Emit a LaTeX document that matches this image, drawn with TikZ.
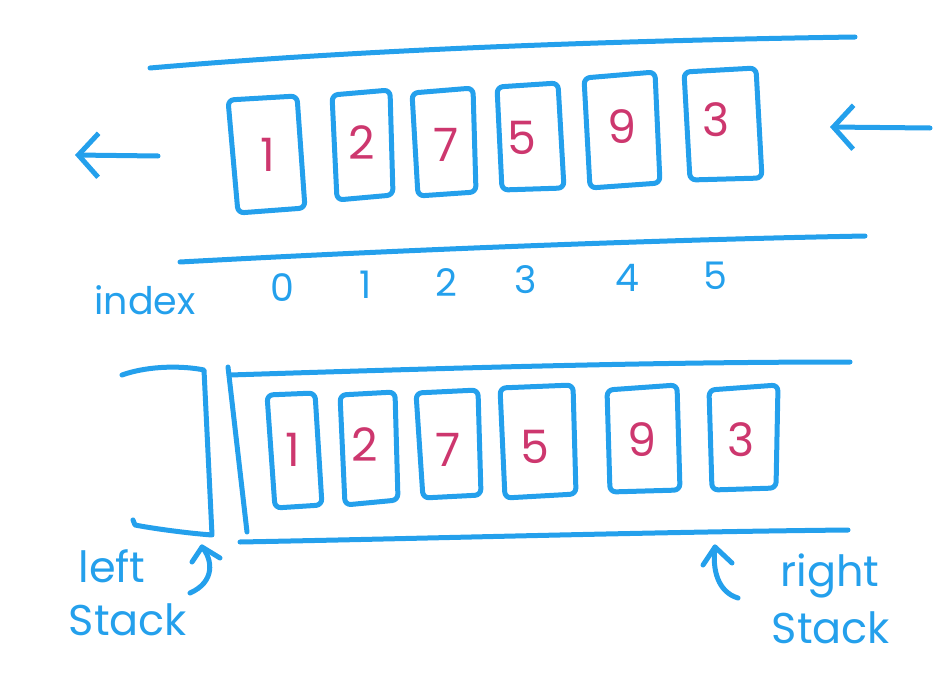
\documentclass[tikz,border=0pt]{standalone}
\usepackage{fontspec}
\setmainfont{Poppins}
\usetikzlibrary{arrows.meta}
\definecolor{pen}{RGB}{36,160,236}
\definecolor{ink}{RGB}{205,55,110}
\begin{document}
\begin{tikzpicture}[x=1pt,y=-1pt,
  pen/.style={draw=pen,line width=5pt,line cap=round,line join=round},
  cellbox/.style={pen,rounded corners=6pt},
  digit/.style={text=ink,font=\fontsize{46}{46}\selectfont,inner sep=0pt},
  idx/.style={text=pen,font=\fontsize{38}{38}\selectfont,inner sep=0pt},
  lbl/.style={text=pen,font=\fontsize{43}{43}\selectfont,inner sep=0pt},
  barb/.style={-{Straight Barb[length=20pt,width=44pt]}}]
\useasboundingbox (0,0) rectangle (940,693);

% ---------- top queue ----------
\draw[pen] (150,68) .. controls (380,48) and (650,40) .. (855,37);
\draw[pen] (180,262) .. controls (400,250) and (650,240) .. (865,236);

\coordinate (la1) at (158,156); \coordinate (la2) at (75,155);
\coordinate (ra1) at (930,128); \coordinate (ra2) at (830,127);
\draw[pen,barb] (la1) -- (la2);
\draw[pen,barb] (ra1) -- (ra2);

\draw[cellbox] (228,100) -- (297,96) -- (305,208) -- (238,213) -- cycle;
\draw[cellbox] (332,95) -- (390,90) -- (393,195) -- (337,200) -- cycle;
\draw[cellbox] (412,93) -- (473,88) -- (476,192) -- (418,196) -- cycle;
\draw[cellbox] (497,87) -- (558,83) -- (564,188) -- (502,190) -- cycle;
\draw[cellbox] (584,78) -- (655,72) -- (660,183) -- (590,188) -- cycle;
\draw[cellbox] (684,72) -- (756,68) -- (762,178) -- (690,180) -- cycle;

\node[digit] (t1) at (268,155) {1};
\node[digit] (t2) at (362,143) {2};
\node[digit] (t3) at (446,145) {7};
\node[digit] (t4) at (522,138) {5};
\node[digit] (t5) at (622,127) {9};
\node[digit] (t6) at (716,120) {3};

% ---------- index row ----------
\node[lbl,font=\fontsize{38}{38}\selectfont] (ix) at (145,300) {index};
\node[idx] (i0) at (282,288) {0};
\node[idx] (i1) at (366,285) {1};
\node[idx] (i2) at (446,283) {2};
\node[idx] (i3) at (526,280) {3};
\node[idx] (i4) at (627,278) {4};
\node[idx] (i5) at (715,276) {5};

% ---------- bottom: two stacks ----------
\draw[pen] (122,375) .. controls (150,365) and (185,366) .. (204,370) -- (212,535)
  .. controls (185,533) and (150,528) .. (135,525) -- (133,520);
\draw[pen] (228,367) -- (247,532);
\draw[pen] (230,375) .. controls (450,368) and (650,362) .. (850,362);
\draw[pen] (240,542) .. controls (450,538) and (650,532) .. (848,530);

\draw[cellbox] (267,395) -- (315,393) -- (322,505) -- (275,508) -- cycle;
\draw[cellbox] (340,395) -- (395,392) -- (398,500) -- (345,505) -- cycle;
\draw[cellbox] (416,393) -- (478,390) -- (481,495) -- (423,498) -- cycle;
\draw[cellbox] (500,388) -- (573,385) -- (576,494) -- (505,498) -- cycle;
\draw[cellbox] (607,390) -- (677,385) -- (680,490) -- (610,492) -- cycle;
\draw[cellbox] (709,390) -- (778,385) -- (776,488) -- (712,490) -- cycle;

\node[digit] (b1) at (293,450) {1};
\node[digit] (b2) at (365,445) {2};
\node[digit] (b3) at (448,450) {7};
\node[digit] (b4) at (535,447) {5};
\node[digit] (b5) at (642,440) {9};
\node[digit] (b6) at (741,440) {3};

% ---------- labels with curved arrows ----------
\node[lbl] (ls1) at (112,566) {left};
\node[lbl] (ls2) at (128,620) {Stack};
\node[lbl] (rs1) at (830,576) {right};
\node[lbl] (rs2) at (831,628) {Stack};

\coordinate (lat) at (202,547); \coordinate (las) at (190,593);
\coordinate (lh1) at (192,562); \coordinate (lh2) at (220,558);
\draw[pen] (las) .. controls (215,582) and (213,560) .. (lat);
\draw[pen] (lh1) -- (lat) -- (lh2);

\coordinate (rat) at (715,547); \coordinate (ras) at (738,598);
\coordinate (rh1) at (703,565); \coordinate (rh2) at (732,563);
\draw[pen] (ras) .. controls (718,592) and (712,570) .. (rat);
\draw[pen] (rh1) -- (rat) -- (rh2);
\end{tikzpicture}
\end{document}
